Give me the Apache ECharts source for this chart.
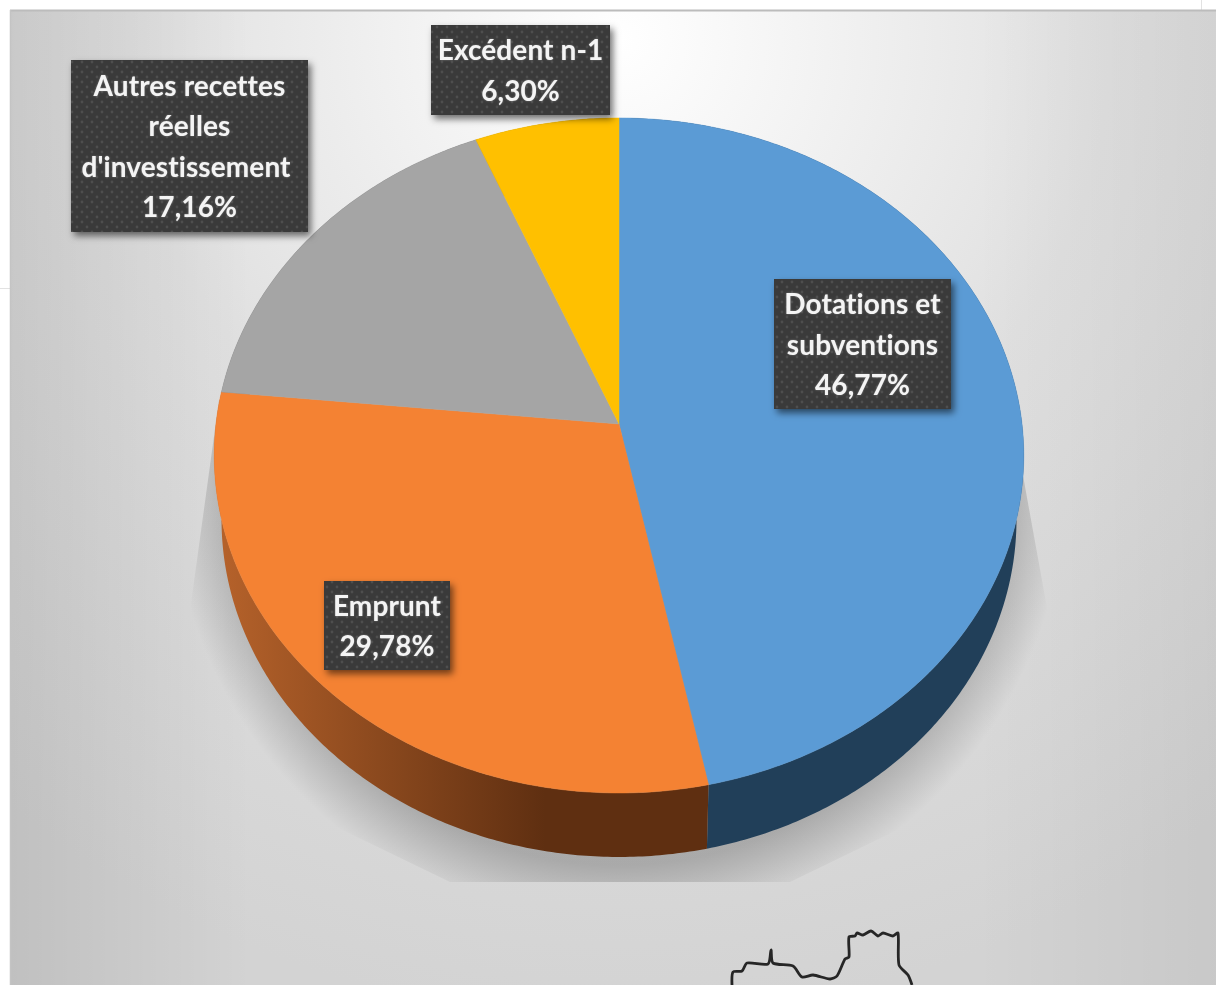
<!DOCTYPE html>
<html><head><meta charset="utf-8">
<style>html,body{margin:0;padding:0;background:#fff}#c{width:1216px;height:985px}</style>
<script src="https://cdn.jsdelivr.net/npm/echarts@6/dist/echarts.min.js"></script>
</head><body><div id="c"></div>
<script>
const categories = ['Dotations et\nsubventions', 'Emprunt', "Autres recettes\nréelles\nd'investissement ", 'Excédent n-1'];
const values = [46.77, 29.78, 17.16, 6.30];

const topColors = ['#5b9bd5', '#f48233', '#a5a5a5', '#ffc000'];
const labelBoxes = [[774,279,177,130],[324,581,126,89],[71,60,237,172],[431,25,179,90]];
const outline = [[732,985],[733,972],[742,971],[747,963],[768,964],[771,950],[773,963],[793,966],[802,977],[813,975],[830,979],[837,976],[845,959],[849,957],[849,937],[855,936],[857,933],[863,935],[871,931],[878,936],[883,933],[893,936],[898,933],[899,965],[908,975],[912,985]];

// slightly open tracking, no ligatures, to sit closer to the original label font
const nativeFillText = CanvasRenderingContext2D.prototype.fillText;
CanvasRenderingContext2D.prototype.fillText = function(){ this.letterSpacing='0.1px'; return nativeFillText.apply(this, arguments); };

const G = echarts.graphic;
const wallColors = [
  '#213f59',
  new G.LinearGradient(225,0,545,0,[{offset:0,color:'#b4612a'},{offset:1,color:'#5f2f11'}],true),
  '#636363','#997300'
];

// tilted disc: a perspective view of the pie's circle
const CX=619, CY=424, TILT=-0.0933, RX=403, RY=295, DROP=64, LOWER=0.982;
function rim(theta, lower){
  const u=Math.sin(theta), v=-Math.cos(theta), w=1+TILT*v;
  const k=lower?LOWER:1;
  return [CX+k*RX*u/w, (lower?DROP:0)+(CY+RY*v)/w];
}
const total=values.reduce((a,b)=>a+b,0);
function span(i){
  let s=0; for(let j=0;j<i;j++) s+=values[j];
  return [s/total*2*Math.PI,(s+values[i])/total*2*Math.PI];
}
function arc(a,b,lower){
  const n=Math.max(2,Math.ceil((b-a)/0.01)), p=[];
  for(let i=0;i<=n;i++) p.push(rim(a+(b-a)*i/n,lower));
  return p;
}

// dotted texture for label boxes
const tex=document.createElement('canvas'); tex.width=10; tex.height=10;
(function(){const c=tex.getContext('2d');c.fillStyle='#3a3a3a';c.fillRect(0,0,10,10);
 c.fillStyle='#4e4e4e';[[2,2],[7,7]].forEach(d=>{c.beginPath();c.arc(d[0],d[1],1.4,0,7);c.fill();});})();

const seriesData=values.map((v,i)=>({name:categories[i],value:v}));
const fmt=v=>v.toFixed(2).replace('.',',')+'%';

const option={
  backgroundColor:'#fff',
  animation:false,
  graphic:{elements:[
    {type:'line',silent:true,z:0,shape:{x1:0,y1:288.5,x2:10,y2:288.5},style:{stroke:'#e2e2e2',lineWidth:1}},
    {type:'line',silent:true,z:0,shape:{x1:1201.5,y1:0,x2:1201.5,y2:10},style:{stroke:'#e2e2e2',lineWidth:1}},
    {type:'rect',silent:true,z:0,shape:{x:10,y:10,width:1206,height:975},
      style:{fill:new G.RadialGradient(620,40,980,[{offset:0,color:'#ffffff'},{offset:0.18,color:'#f4f4f4'},{offset:0.5,color:'#e0e0e0'},{offset:1,color:'#d3d3d3'}],true)}},
    {type:'rect',silent:true,z:0,shape:{x:10,y:10,width:1206,height:975},
      style:{fill:new G.LinearGradient(10,0,1216,0,[{offset:0,color:'rgba(0,0,0,0.09)'},{offset:0.2,color:'rgba(0,0,0,0)'},{offset:0.8,color:'rgba(0,0,0,0)'},{offset:1,color:'rgba(0,0,0,0.05)'}],true)}},
    {type:'line',silent:true,z:0,shape:{x1:10,y1:10.5,x2:1216,y2:10.5},style:{stroke:'#bcbcbc',lineWidth:2}},
    {type:'line',silent:true,z:0,shape:{x1:10.5,y1:10,x2:10.5,y2:985},style:{stroke:'#c4c4c4',lineWidth:1.5}},
    {type:'polygon',silent:true,z:1,shape:{points:[[219,400],[186,640],[260,790],[450,882],[790,882],[980,790],[1051,630],[1022,470]]},
      style:{fill:new G.RadialGradient(619,480,448,[{offset:0,color:'rgba(0,0,0,0.22)'},{offset:0.86,color:'rgba(0,0,0,0.21)'},{offset:1,color:'rgba(0,0,0,0)'}],true)}},
    {type:'polyline',silent:true,z:1,shape:{points:outline,smooth:0.25},style:{stroke:'#262626',lineWidth:2.8,fill:null,lineJoin:'round'}}
  ]},
  series:[
    {type:'custom',coordinateSystem:'none',z:2,silent:true,clip:false,data:seriesData,
     renderItem(p){
       const [a,b]=span(p.dataIndex);
       return {type:'polygon',shape:{points:arc(a,b,false).concat(arc(a,b,true).reverse())},style:{fill:wallColors[p.dataIndex]}};
     }},
    {type:'custom',coordinateSystem:'none',z:3,silent:true,clip:false,data:seriesData,
     renderItem(p){
       const [a,b]=span(p.dataIndex);
       return {type:'polygon',shape:{points:[[CX,CY]].concat(arc(a,b,false))},style:{fill:topColors[p.dataIndex],stroke:topColors[p.dataIndex],lineWidth:0.5}};
     }},
    {type:'custom',coordinateSystem:'none',z:4,silent:true,clip:false,data:seriesData,
     renderItem(p){
       const i=p.dataIndex, b=labelBoxes[i];
       const lines=(categories[i]+'\n'+fmt(values[i]));
       return {type:'group',children:[
         {type:'rect',shape:{x:b[0],y:b[1],width:b[2],height:b[3]},
          style:{fill:{image:tex,repeat:'repeat'},shadowBlur:7,shadowOffsetX:3,shadowOffsetY:4,shadowColor:'rgba(0,0,0,0.55)'}},
         {type:'text',style:{text:lines,x:b[0]+b[2]/2,y:b[1]+b[3]/2+1.5,align:'center',verticalAlign:'middle',
           font:'bold 28px Lato, "Open Sans", sans-serif',lineHeight:40.5,fill:'#f4f4f4',
           textShadowBlur:2,textShadowColor:'rgba(255,255,255,0.35)'}}
       ]};
     }}
  ]
};
const chart=echarts.init(document.getElementById('c'),null,{renderer:'canvas'});
chart.setOption(option);
</script></body></html>
